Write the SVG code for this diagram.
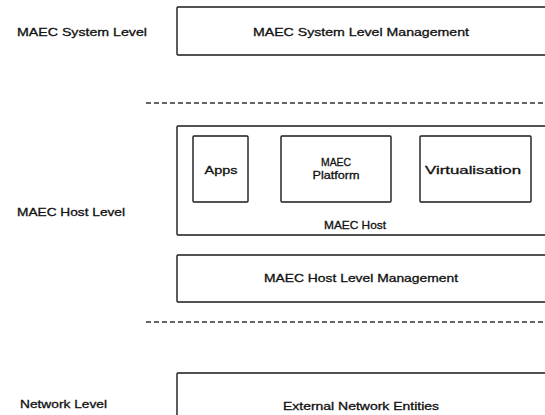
<svg xmlns="http://www.w3.org/2000/svg" width="545" height="415" viewBox="0 0 545 415">
<style>
.box{fill:#fff;stroke:#1a1a1a;stroke-width:1.4}
.sep{stroke:#333;stroke-width:1.4;stroke-dasharray:5 3;fill:none}
text{font-family:"Liberation Sans",Arial,sans-serif;font-size:11px;fill:#111;stroke:#111;stroke-width:0.3;text-anchor:middle}
.lbl{text-anchor:start}
</style>
<rect width="545" height="415" fill="#fff"/>
<g id="connectors">
<line class="sep" x1="146" y1="103" x2="545" y2="103"/>
<line class="sep" x1="146" y1="322" x2="545" y2="322"/>
</g>
<g id="labels">
<text class="lbl" x="17" y="36" textLength="130" lengthAdjust="spacingAndGlyphs">MAEC System Level</text>
<text class="lbl" x="17" y="216" textLength="108" lengthAdjust="spacingAndGlyphs">MAEC Host Level</text>
<text class="lbl" x="20" y="408" textLength="87" lengthAdjust="spacingAndGlyphs">Network Level</text>
</g>
<g id="system-mgmt">
<rect class="box" x="177" y="7" width="380" height="48" rx="1"/>
<text x="361" y="36" textLength="216" lengthAdjust="spacingAndGlyphs">MAEC System Level Management</text>
</g>
<g id="maec-host">
<rect class="box" x="177" y="126" width="380" height="109" rx="1"/>
<text x="355" y="229" textLength="62" lengthAdjust="spacingAndGlyphs">MAEC Host</text>
</g>
<g id="apps">
<rect class="box" x="193" y="136" width="55" height="66" rx="1"/>
<text x="221" y="174" textLength="33" lengthAdjust="spacingAndGlyphs">Apps</text>
</g>
<g id="maec-platform">
<rect class="box" x="281" y="136" width="110" height="66" rx="1"/>
<text x="336" y="166" textLength="30" lengthAdjust="spacingAndGlyphs">MAEC</text>
<text x="336" y="178.5" textLength="47" lengthAdjust="spacingAndGlyphs">Platform</text>
</g>
<g id="virtualisation">
<rect class="box" x="420" y="136" width="111" height="66" rx="1"/>
<text x="473" y="174" textLength="96" lengthAdjust="spacingAndGlyphs">Virtualisation</text>
</g>
<g id="host-mgmt">
<rect class="box" x="177" y="255" width="380" height="47" rx="1"/>
<text x="361" y="282" textLength="194" lengthAdjust="spacingAndGlyphs">MAEC Host Level Management</text>
</g>
<g id="external-network">
<rect class="box" x="177" y="373" width="380" height="60" rx="1"/>
<text x="361" y="410" textLength="156" lengthAdjust="spacingAndGlyphs">External Network Entities</text>
</g>
</svg>
